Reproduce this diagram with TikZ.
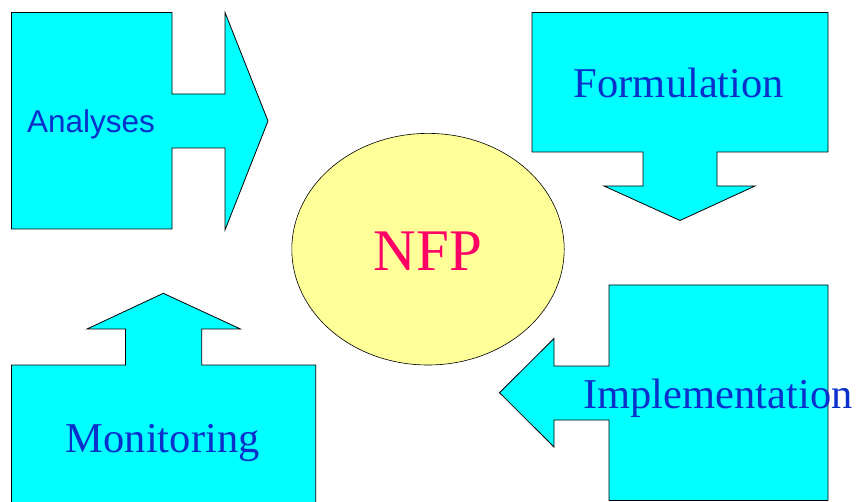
\documentclass[tikz,border=0pt]{standalone}
\usepackage{fontspec}
\setmainfont{Liberation Serif}
\setsansfont{Liberation Sans}
\usepackage{tikz}

\definecolor{boxcyan}{RGB}{0,255,255}
\definecolor{nfpyellow}{RGB}{255,255,153}
\definecolor{labelblue}{RGB}{10,48,204}
\definecolor{nfpred}{RGB}{255,0,102}

\tikzset{
  callout/.style={draw=black, fill=boxcyan, line width=0.8pt, line join=miter},
  steplabel/.style={text=labelblue, inner sep=0pt, anchor=base,
    font=\fontsize{42.5}{50}\selectfont}
}

\begin{document}
\begin{tikzpicture}[x=1pt,y=-1pt]
			\useasboundingbox (0,0) rectangle (856,502);
			% Analyses (arrow to the right)
			\draw [callout] (11.5,12.5) -- (172,12.5) -- (172,94) -- (225,94) -- (225,12.5)
				-- (268,121) -- (225,230) -- (225,148) -- (172,148) -- (172,229) -- (11.5,229) -- cycle;
			\node [steplabel, font=\sffamily\fontsize{31.5}{36}\selectfont] (analyses) at (91,133) {Analyses};
			% Formulation (arrow down)
			\draw [callout] (532,12.5) -- (828,12.5) -- (828,152) -- (717,152) -- (717,186) -- (755,186)
				-- (680,220.5) -- (604,186) -- (643,186) -- (643,152) -- (532,152) -- cycle;
			\node [steplabel] (formulation) at (679,98) {Formulation};
			% Implementation (arrow to the left)
			\draw [callout] (609,285) -- (828,285) -- (828,500.5) -- (609,500.5) -- (609,420) -- (554,420)
				-- (554,447) -- (499.5,392.7) -- (554,338.5) -- (554,366) -- (609,366) -- cycle;
			\node [steplabel] (implementation) at (718,408.3) {Implementation};
			% Monitoring (arrow up)
			\draw [callout] (11.5,505) -- (11.5,365) -- (125.5,365) -- (125.5,329) -- (87,329)
				-- (163.3,293.3) -- (240.5,329) -- (201.7,329) -- (201.7,365) -- (315.7,365) -- (315.7,505);
			\node [steplabel] (monitoring) at (162.7,452.7) {Monitoring};
			% NFP
			\draw [black, fill=nfpyellow, line width=0.6pt] (428,249.2) ellipse [x radius=136.2, y radius=115.8];
			\node [text=nfpred, inner sep=0pt, anchor=base, font=\fontsize{59}{66}\selectfont] (nfp) at (428,271) {NFP};
\end{tikzpicture}
\end{document}
